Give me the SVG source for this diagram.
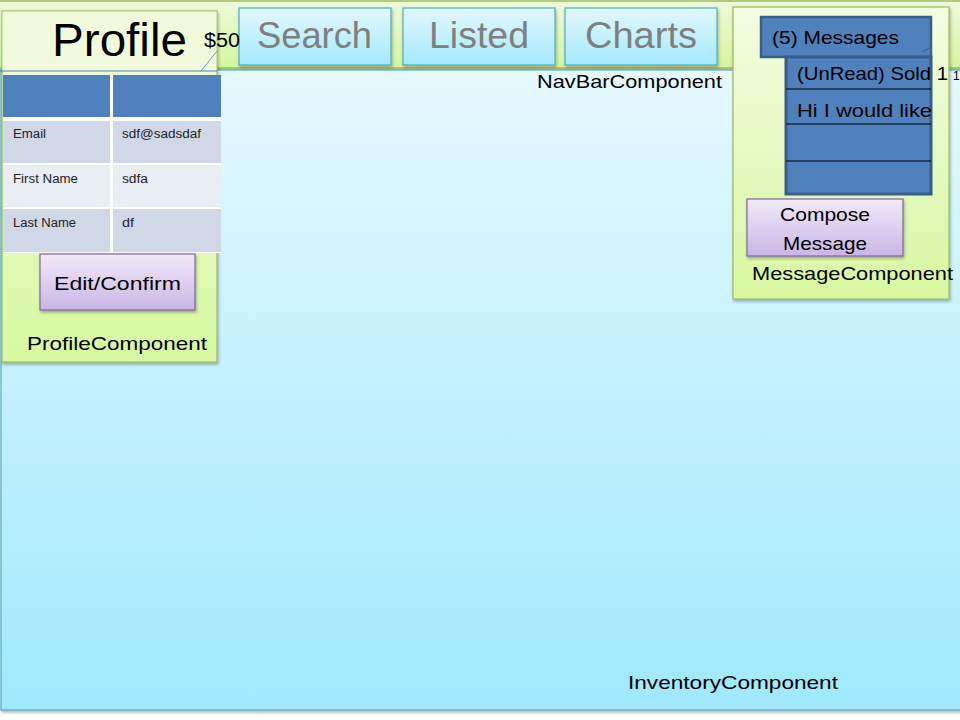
<svg xmlns="http://www.w3.org/2000/svg" width="960" height="720" viewBox="0 0 960 720">
<defs>
<linearGradient id="gGreen" x1="0" y1="0" x2="0" y2="1"><stop offset="0" stop-color="#f3fce2"/><stop offset="1" stop-color="#d7f8a0"/></linearGradient>
<linearGradient id="gNav" x1="0" y1="0" x2="0" y2="1"><stop offset="0" stop-color="#eefadb"/><stop offset="1" stop-color="#d4f59e"/></linearGradient>
<linearGradient id="gCyan" x1="0" y1="0" x2="0" y2="1"><stop offset="0" stop-color="#e6f9fe"/><stop offset="1" stop-color="#9fe9fd"/></linearGradient>
<linearGradient id="gBtn" x1="0" y1="0" x2="0" y2="1"><stop offset="0" stop-color="#e2f8fe"/><stop offset="1" stop-color="#a4e9fc"/></linearGradient>
<linearGradient id="gPurple" x1="0" y1="0" x2="0" y2="1"><stop offset="0" stop-color="#f2eaf9"/><stop offset="1" stop-color="#cab5e5"/></linearGradient>
<filter id="sh" x="-5%" y="-5%" width="110%" height="115%"><feDropShadow dx="1" dy="2" stdDeviation="1.5" flood-color="#000" flood-opacity="0.3"/></filter>
<style>
text{font-family:"Liberation Sans",Arial,sans-serif;fill:#000}
.grn{fill:url(#gGreen);stroke:#9bbb59;stroke-width:1.2}
.nbtn{fill:url(#gBtn);stroke:#4bacc6;stroke-width:1.2}
.nlbl{font-size:37px;fill:#7f7f7f}
.pbtn{fill:url(#gPurple);stroke:#8064a2;stroke-width:1.2}
.lbl{font-size:19px}
.cell{font-size:12.5px;fill:#222}
.blue{fill:#4f81bd;stroke:#385d8a}
</style>
</defs>

<g id="navbar">
<rect x="-2" y="1" width="964" height="67" fill="url(#gNav)" stroke="#9bbb59" stroke-width="1.5" filter="url(#sh)"/>
</g>

<g id="inventory">
<rect x="1" y="70" width="962" height="640" fill="url(#gCyan)" stroke="#4bacc6" stroke-width="1.2" filter="url(#sh)"/>
<text class="lbl" x="628" y="689" textLength="210" lengthAdjust="spacingAndGlyphs">InventoryComponent</text>
</g>

<g id="navbar-buttons">
<g id="search"><rect class="nbtn" x="239" y="8" width="152" height="57" filter="url(#sh)"/><text class="nlbl" x="257" y="48" textLength="115" lengthAdjust="spacingAndGlyphs">Search</text></g>
<g id="listed"><rect class="nbtn" x="403" y="8" width="152" height="57" filter="url(#sh)"/><text class="nlbl" x="429" y="48" textLength="100" lengthAdjust="spacingAndGlyphs">Listed</text></g>
<g id="charts"><rect class="nbtn" x="565" y="8" width="152" height="57" filter="url(#sh)"/><text class="nlbl" x="585" y="48" textLength="112" lengthAdjust="spacingAndGlyphs">Charts</text></g>
<text class="lbl" x="537" y="88" textLength="185" lengthAdjust="spacingAndGlyphs">NavBarComponent</text>
</g>

<g id="profile">
<rect class="grn" x="2" y="11" width="215" height="351" filter="url(#sh)"/>
<rect x="2.6" y="11.6" width="213.8" height="58" fill="#f1fbdc"/>
<text x="52" y="56" font-size="46" textLength="135" lengthAdjust="spacingAndGlyphs">Profile</text>
<text x="204" y="47" font-size="20" textLength="36" lengthAdjust="spacingAndGlyphs">$50</text>
<line x1="201" y1="71" x2="217" y2="51" stroke="#4f81bd" stroke-width="0.8"/>
<line x1="0" y1="71" x2="217" y2="71" stroke="#4f81bd" stroke-width="1"/>
<g id="profile-table">
<rect x="3" y="75" width="218" height="178" fill="#ffffff"/>
<rect x="3" y="75" width="107" height="42" fill="#4f81bd"/>
<rect x="113" y="75" width="108" height="42" fill="#4f81bd"/>
<rect x="3" y="121" width="107" height="42" fill="#d0d8e8"/>
<rect x="113" y="121" width="108" height="42" fill="#d0d8e8"/>
<rect x="3" y="165" width="107" height="42" fill="#e9edf4"/>
<rect x="113" y="165" width="108" height="42" fill="#e9edf4"/>
<rect x="3" y="209" width="107" height="43" fill="#d0d8e8"/>
<rect x="113" y="209" width="108" height="43" fill="#d0d8e8"/>
<text class="cell" x="13" y="138" textLength="33" lengthAdjust="spacingAndGlyphs">Email</text>
<text class="cell" x="122" y="138" textLength="79" lengthAdjust="spacingAndGlyphs">sdf@sadsdaf</text>
<text class="cell" x="13" y="183" textLength="65" lengthAdjust="spacingAndGlyphs">First Name</text>
<text class="cell" x="122" y="183" textLength="26" lengthAdjust="spacingAndGlyphs">sdfa</text>
<text class="cell" x="13" y="227" textLength="63" lengthAdjust="spacingAndGlyphs">Last Name</text>
<text class="cell" x="122" y="227" textLength="12" lengthAdjust="spacingAndGlyphs">df</text>
</g>
<g id="edit-confirm"><rect class="pbtn" x="40" y="254" width="155" height="56" filter="url(#sh)"/><text class="lbl" x="54" y="290" textLength="127" lengthAdjust="spacingAndGlyphs">Edit/Confirm</text></g>
<text class="lbl" x="27" y="350" textLength="180" lengthAdjust="spacingAndGlyphs">ProfileComponent</text>
</g>

<g id="messages">
<rect class="grn" x="733" y="7" width="216" height="292" filter="url(#sh)"/>
<g id="messages-header"><rect class="blue" x="761" y="17" width="170" height="40" stroke-width="2.5"/><text class="lbl" x="772" y="44" textLength="127" lengthAdjust="spacingAndGlyphs">(5) Messages</text></g>
<line x1="922" y1="52" x2="931" y2="47" stroke="#385d8a" stroke-width="1"/>
<g id="message-list">
<rect class="blue" x="786" y="57" width="145" height="137" stroke-width="3"/>
<line x1="786" y1="89" x2="931" y2="89" stroke="#000" stroke-width="1"/>
<line x1="786" y1="124" x2="931" y2="124" stroke="#000" stroke-width="1"/>
<line x1="786" y1="161" x2="931" y2="161" stroke="#000" stroke-width="1"/>
<text class="lbl" x="797" y="80" textLength="151" lengthAdjust="spacingAndGlyphs">(UnRead) Sold 1</text>
<text x="953" y="80" font-size="12">1</text>
<text class="lbl" x="797" y="117" textLength="135" lengthAdjust="spacingAndGlyphs">Hi I would like</text>
</g>
<g id="compose"><rect class="pbtn" x="747" y="199" width="156" height="57" filter="url(#sh)"/>
<text class="lbl" x="780" y="221" textLength="90" lengthAdjust="spacingAndGlyphs">Compose</text>
<text class="lbl" x="783" y="250" textLength="84" lengthAdjust="spacingAndGlyphs">Message</text></g>
<text class="lbl" x="752" y="280" textLength="201" lengthAdjust="spacingAndGlyphs">MessageComponent</text>
</g>
</svg>
